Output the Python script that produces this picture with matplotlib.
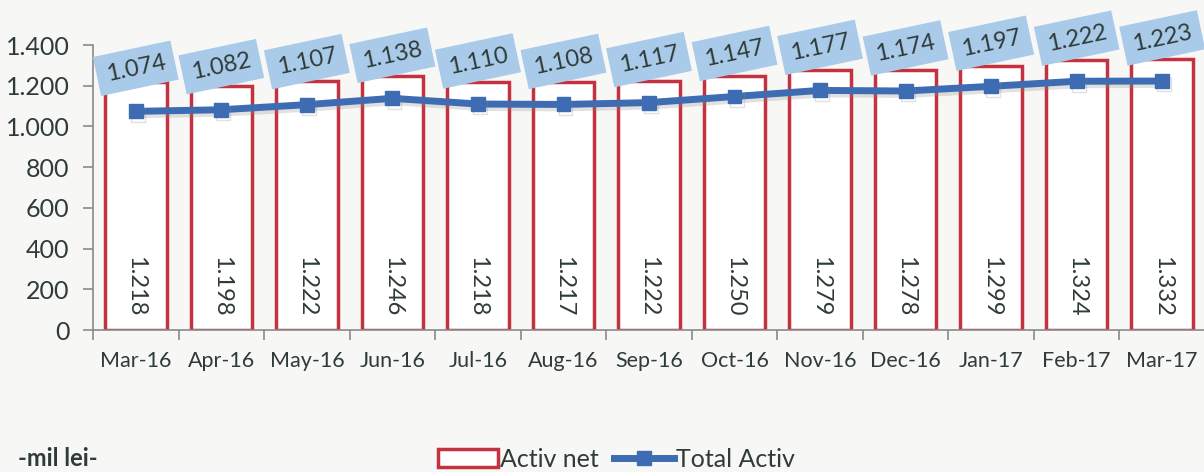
import matplotlib
matplotlib.use("Agg")
import matplotlib.pyplot as plt
import matplotlib.patheffects as pe
from matplotlib.lines import Line2D
from matplotlib.patches import Patch
from matplotlib.ticker import FixedLocator, FuncFormatter
import numpy as np

plt.rcParams["font.family"] = ["Lato", "DejaVu Sans"]

months = ["Mar-16", "Apr-16", "May-16", "Jun-16", "Jul-16", "Aug-16", "Sep-16",
          "Oct-16", "Nov-16", "Dec-16", "Jan-17", "Feb-17", "Mar-17"]
activ_net = [1218, 1198, 1222, 1246, 1218, 1217, 1222, 1250, 1279, 1278, 1299, 1324, 1332]
total_activ = [1074, 1082, 1107, 1138, 1110, 1108, 1117, 1147, 1177, 1174, 1197, 1222, 1223]
y_ticks = [0, 200, 400, 600, 800, 1000, 1200, 1400]

BG = "#f7f7f6"
RED = "#c4323f"
BLUE = "#3d6cb3"
LBLUE = "#a9cbe9"
TXT = "#2f3b38"
AXIS = "#8a8a8a"


def fmt_ro(v, pos=None):
    return f"{v:,.0f}".replace(",", ".")


fig = plt.figure(figsize=(12.04, 4.72), dpi=100, facecolor=BG)
ax = fig.add_axes([93 / 1204, 142 / 472, 1112 / 1204, 285 / 472])
ax.set_facecolor("none")

x = np.arange(len(months))
ax.bar(x, activ_net, width=0.72, color="white", edgecolor=RED, linewidth=2.5, zorder=2)
for xi, v in zip(x, activ_net):
    ax.text(xi, 215, fmt_ro(v), rotation=270, ha="center", va="center",
            fontsize=17, color=TXT, zorder=3)

shadow = [pe.SimpleLineShadow(offset=(1.5, -2.5), shadow_color="#888888", alpha=0.25), pe.Normal()]
ax.plot(x, total_activ, color=BLUE, lw=5, marker="s", ms=10, zorder=4, path_effects=shadow)

for xi, v in zip(x, total_activ):
    ax.annotate(fmt_ro(v), (xi, v), xytext=(0, 31), textcoords="offset points",
                ha="center", va="center", rotation=12, fontsize=17, color=TXT,
                bbox=dict(boxstyle="square,pad=0.4", fc=LBLUE, ec="none"),
                zorder=5, annotation_clip=False)

ax.set_xlim(-0.5, len(months) - 0.5)
ax.set_ylim(0, 1400)
ax.set_yticks(y_ticks)
ax.yaxis.set_major_formatter(FuncFormatter(fmt_ro))
ax.set_xticks(x)
ax.set_xticklabels(months)
ax.xaxis.set_minor_locator(FixedLocator(np.arange(-0.5, len(months), 1)))

ax.tick_params(axis="y", direction="out", length=7, width=1.2, color=AXIS,
               labelsize=18, labelcolor=TXT, pad=10)
ax.tick_params(axis="x", which="major", length=0, labelsize=15.5, labelcolor=TXT, pad=15)
ax.tick_params(axis="x", which="minor", direction="out", length=7, width=1.2, color=AXIS)

for side in ["top", "right"]:
    ax.spines[side].set_visible(False)
for side in ["left", "bottom"]:
    ax.spines[side].set_color(AXIS)
    ax.spines[side].set_linewidth(1.2)

fig.text(18 / 1204, 14 / 472, "-mil lei-", fontsize=17, fontweight="bold", color=TXT,
         ha="left", va="center")

handles = [Patch(facecolor="white", edgecolor=RED, linewidth=2.5),
           Line2D([], [], color=BLUE, lw=5, marker="s", ms=10)]
fig.legend(handles, ["Activ net", "Total Activ"], loc="center", bbox_to_anchor=(0.512, 0.027),
           ncol=2, frameon=False, fontsize=18, labelcolor=TXT, handlelength=2.4,
           handletextpad=0.1, columnspacing=0.6, borderpad=0.1)

fig.savefig("out.png", dpi=100, facecolor=BG)
